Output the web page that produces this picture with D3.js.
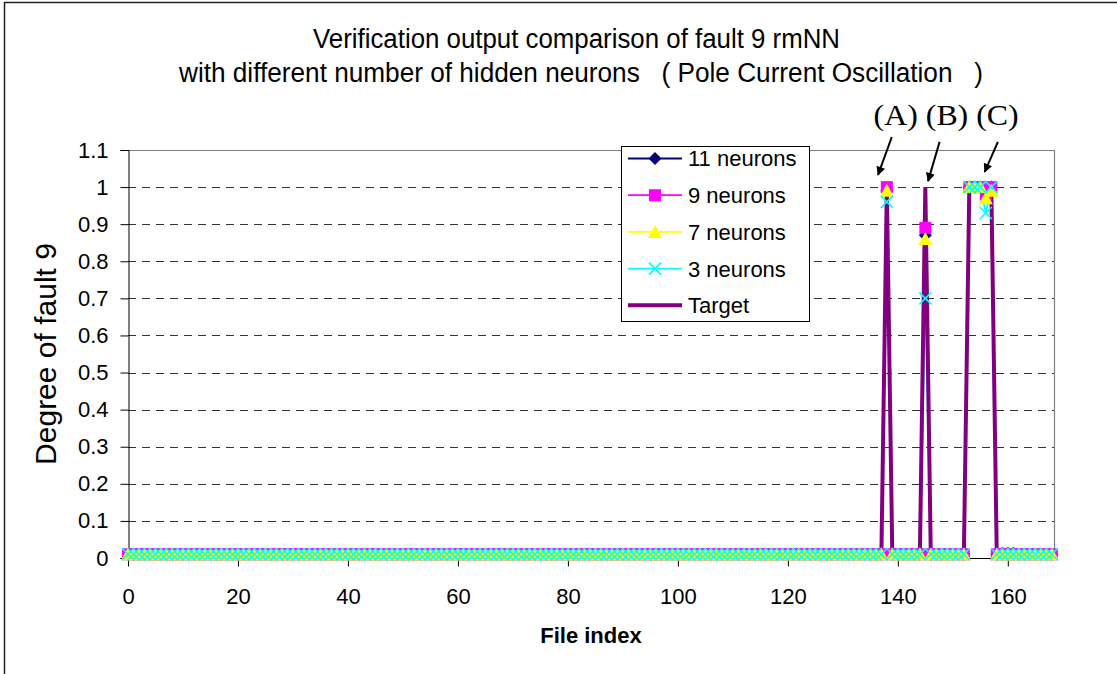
<!DOCTYPE html>
<html><head><meta charset="utf-8">
<script src="https://cdn.jsdelivr.net/npm/d3@7"></script>
<style>
html,body{margin:0;padding:0;background:#fff;}
svg{display:block;}
text{font-family:"Liberation Sans",Arial,sans-serif;fill:#000;}
</style></head>
<body>
<svg id="chart" width="1117" height="674"></svg>
<script>
// ---------------- DATA ----------------
const titleLines = ["Verification output comparison of fault 9 rmNN",
                    "with different number of hidden neurons   ( Pole Current Oscillation   )"];
const xTitle = "File index";
const yTitle = "Degree of fault 9";
const xTicks = [0,20,40,60,80,100,120,140,160];
const yTicks = [0,0.1,0.2,0.3,0.4,0.5,0.6,0.7,0.8,0.9,1,1.1];
const yTickLabels = ["0","0.1","0.2","0.3","0.4","0.5","0.6","0.7","0.8","0.9","1","1.1"];
const seriesNames = ["11 neurons","9 neurons","7 neurons","3 neurons","Target"];
const fileIndex = d3.range(0,169); // files 0..168

// values per file index, rows of 10 (0-9, 10-19, ... 160-168)
const n11 = [
0.01,0.01,0.01,0.01,0.01,0.01,0.01,0.01,0.01,0.01,
0.01,0.01,0.01,0.01,0.01,0.01,0.01,0.01,0.01,0.01,
0.01,0.01,0.01,0.01,0.01,0.01,0.01,0.01,0.01,0.01,
0.01,0.01,0.01,0.01,0.01,0.01,0.01,0.01,0.01,0.01,
0.01,0.01,0.01,0.01,0.01,0.01,0.01,0.01,0.01,0.01,
0.01,0.01,0.01,0.01,0.01,0.01,0.01,0.01,0.01,0.01,
0.01,0.01,0.01,0.01,0.01,0.01,0.01,0.01,0.01,0.01,
0.01,0.01,0.01,0.01,0.01,0.01,0.01,0.01,0.01,0.01,
0.01,0.01,0.01,0.01,0.01,0.01,0.01,0.01,0.01,0.01,
0.01,0.01,0.01,0.01,0.01,0.01,0.01,0.01,0.01,0.01,
0.01,0.01,0.01,0.01,0.01,0.01,0.01,0.01,0.01,0.01,
0.01,0.01,0.01,0.01,0.01,0.01,0.01,0.01,0.01,0.01,
0.01,0.01,0.01,0.01,0.01,0.01,0.01,0.01,0.01,0.01,
0.01,0.01,0.01,0.01,0.01,0.01,0.01,0.01,0.99,0.01,
0.01,0.01,0.01,0.01,0.01,0.87,0.01,0.01,0.01,0.01,
0.01,0.01,0.01,1.00,1.00,1.00,1.00,1.00,0.01,0.013,
0.013,0.013,0.01,0.01,0.01,0.01,0.01,0.01,0.01];
const n9 = [
0.01,0.01,0.01,0.01,0.01,0.01,0.01,0.01,0.01,0.01,
0.01,0.01,0.01,0.01,0.01,0.01,0.01,0.01,0.01,0.01,
0.01,0.01,0.01,0.01,0.01,0.01,0.01,0.01,0.01,0.01,
0.01,0.01,0.01,0.01,0.01,0.01,0.01,0.01,0.01,0.01,
0.01,0.01,0.01,0.01,0.01,0.01,0.01,0.01,0.01,0.01,
0.01,0.01,0.01,0.01,0.01,0.01,0.01,0.01,0.01,0.01,
0.01,0.01,0.01,0.01,0.01,0.01,0.01,0.01,0.01,0.01,
0.01,0.01,0.01,0.01,0.01,0.01,0.01,0.01,0.01,0.01,
0.01,0.01,0.01,0.01,0.01,0.01,0.01,0.01,0.01,0.01,
0.01,0.01,0.01,0.01,0.01,0.01,0.01,0.01,0.01,0.01,
0.01,0.01,0.01,0.01,0.01,0.01,0.01,0.01,0.01,0.01,
0.01,0.01,0.01,0.01,0.01,0.01,0.01,0.01,0.01,0.01,
0.01,0.01,0.01,0.01,0.01,0.01,0.01,0.01,0.01,0.01,
0.01,0.01,0.01,0.01,0.01,0.01,0.01,0.01,1.00,0.01,
0.01,0.01,0.01,0.01,0.01,0.89,0.01,0.01,0.01,0.01,
0.01,0.01,0.01,1.00,1.00,1.00,0.98,1.00,0.01,0.01,
0.01,0.01,0.01,0.01,0.01,0.01,0.01,0.01,0.01];
const n7 = [
0.01,0.01,0.01,0.01,0.01,0.01,0.01,0.01,0.01,0.01,
0.01,0.01,0.01,0.01,0.01,0.01,0.01,0.01,0.01,0.01,
0.01,0.01,0.01,0.01,0.01,0.01,0.01,0.01,0.01,0.01,
0.01,0.01,0.01,0.01,0.01,0.01,0.01,0.01,0.01,0.01,
0.01,0.01,0.01,0.01,0.01,0.01,0.01,0.01,0.01,0.01,
0.01,0.01,0.01,0.01,0.01,0.01,0.01,0.01,0.01,0.01,
0.01,0.01,0.01,0.01,0.01,0.01,0.01,0.01,0.01,0.01,
0.01,0.01,0.01,0.01,0.01,0.01,0.01,0.01,0.01,0.01,
0.01,0.01,0.01,0.01,0.01,0.01,0.01,0.01,0.01,0.01,
0.01,0.01,0.01,0.01,0.01,0.01,0.01,0.01,0.01,0.01,
0.01,0.01,0.01,0.01,0.01,0.01,0.01,0.01,0.01,0.01,
0.01,0.01,0.01,0.01,0.01,0.01,0.01,0.01,0.01,0.01,
0.01,0.01,0.01,0.01,0.01,0.01,0.01,0.01,0.01,0.01,
0.01,0.01,0.01,0.01,0.01,0.01,0.01,0.01,0.99,0.01,
0.01,0.01,0.01,0.01,0.01,0.86,0.01,0.01,0.01,0.01,
0.01,0.01,0.01,1.00,1.00,1.00,0.97,0.99,0.01,0.01,
0.01,0.01,0.01,0.01,0.01,0.01,0.01,0.01,0.01];
const n3 = [
0.01,0.01,0.01,0.01,0.01,0.01,0.01,0.01,0.01,0.01,
0.01,0.01,0.01,0.01,0.01,0.01,0.01,0.01,0.01,0.01,
0.01,0.01,0.01,0.01,0.01,0.01,0.01,0.01,0.01,0.01,
0.01,0.01,0.01,0.01,0.01,0.01,0.01,0.01,0.01,0.01,
0.01,0.01,0.01,0.01,0.01,0.01,0.01,0.01,0.01,0.01,
0.01,0.01,0.01,0.01,0.01,0.01,0.01,0.01,0.01,0.01,
0.01,0.01,0.01,0.01,0.01,0.01,0.01,0.01,0.01,0.01,
0.01,0.01,0.01,0.01,0.01,0.01,0.01,0.01,0.01,0.01,
0.01,0.01,0.01,0.01,0.01,0.01,0.01,0.01,0.01,0.01,
0.01,0.01,0.01,0.01,0.01,0.01,0.01,0.01,0.01,0.01,
0.01,0.01,0.01,0.01,0.01,0.01,0.01,0.01,0.01,0.01,
0.01,0.01,0.01,0.01,0.01,0.01,0.01,0.01,0.01,0.01,
0.01,0.01,0.01,0.01,0.01,0.01,0.01,0.01,0.01,0.01,
0.01,0.01,0.01,0.01,0.01,0.01,0.01,0.01,0.96,0.01,
0.01,0.01,0.01,0.01,0.01,0.70,0.01,0.01,0.01,0.01,
0.01,0.01,0.01,1.00,1.00,1.00,0.93,1.00,0.01,0.01,
0.01,0.01,0.01,0.01,0.01,0.01,0.01,0.01,0.01];
const target = [
0,0,0,0,0,0,0,0,0,0,
0,0,0,0,0,0,0,0,0,0,
0,0,0,0,0,0,0,0,0,0,
0,0,0,0,0,0,0,0,0,0,
0,0,0,0,0,0,0,0,0,0,
0,0,0,0,0,0,0,0,0,0,
0,0,0,0,0,0,0,0,0,0,
0,0,0,0,0,0,0,0,0,0,
0,0,0,0,0,0,0,0,0,0,
0,0,0,0,0,0,0,0,0,0,
0,0,0,0,0,0,0,0,0,0,
0,0,0,0,0,0,0,0,0,0,
0,0,0,0,0,0,0,0,0,0,
0,0,0,0,0,0,0,0,1,0,
0,0,0,0,0,1,0,0,0,0,
0,0,0,1,1,1,1,1,0,0,
0,0,0,0,0,0,0,0,0];
// annotation text and arrows, in data units (file index, degree)
const annText = "(A) (B) (C)";
const annTextPos = [135.6, 1.167];
const annArrows = [
  {from:[138.9,1.135], to:[136.4,1.033]},
  {from:[147.6,1.122], to:[145.5,1.016]},
  {from:[158.2,1.122], to:[155.8,1.041]}
];

// ---------------- STYLE / LAYOUT ----------------
const W = 1117, H = 674;
const plot = {left:128, right:1054, top:150, bottom:558};
const colors = ["#000080","#FF00FF","#FFFF00","#00FFFF","#800080"];
const shapes = ["diamond","square","triangle","x",null];

const svg = d3.select("#chart");
svg.append("rect").attr("width",W).attr("height",H).attr("fill","#fff");
// outer chart border (right/bottom fall outside the photographed area)
svg.append("rect").attr("x",4.5).attr("y",2.5).attr("width",W+20).attr("height",H+20)
   .attr("fill","none").attr("stroke","#222").attr("stroke-width",1.5);

const x = d3.scaleLinear().domain([0,168.4]).range([plot.left, plot.right]);
const y = d3.scaleLinear().domain([0,1.1]).range([plot.bottom, plot.top]);

// defs: arrowhead
const defs = svg.append("defs");
defs.append("marker").attr("id","ah").attr("viewBox","0 0 10 10").attr("refX",9).attr("refY",5)
  .attr("markerWidth",11).attr("markerHeight",9).attr("markerUnits","userSpaceOnUse").attr("orient","auto")
  .append("path").attr("d","M0,0 L10,5 L0,10 Z").attr("fill","#000");

// gridlines
svg.append("g").selectAll("line").data(yTicks.filter(v=>v>0 && v<1.1)).join("line")
  .attr("x1",plot.left).attr("x2",plot.right)
  .attr("y1",d=>Math.round(y(d))+0.5).attr("y2",d=>Math.round(y(d))+0.5)
  .attr("stroke","#333").attr("stroke-width",1).attr("stroke-dasharray","8,6");
// top & right plot border
svg.append("path").attr("d",`M${plot.left},${plot.top+0.5}H${plot.right+0.5}V${plot.bottom}`)
  .attr("fill","none").attr("stroke","#808080").attr("stroke-width",1.2);

// axes
const yAxis = d3.axisLeft(y).tickValues(yTicks).tickSize(8).tickPadding(12)
  .tickFormat((d,i)=>yTickLabels[i]);
const gy = svg.append("g").attr("transform",`translate(${plot.left+0.5},0)`).call(yAxis);
gy.selectAll("text").style("font-size","22px").attr("fill","#000");
gy.selectAll("line,path").attr("stroke","#000");

const xAxis = d3.axisBottom(x).tickValues(xTicks).tickSize(8).tickPadding(0).tickFormat(d3.format("d"));
const gx = svg.append("g").attr("transform",`translate(0,${plot.bottom+0.5})`).call(xAxis);
gx.selectAll("text").style("font-size","22px").attr("fill","#000").attr("dy",null).attr("y",45);
gx.selectAll("line,path").attr("stroke","#000");
gx.select(".domain").attr("d",`M${plot.left},0H${plot.right}`);

// lines
const line = d3.line().x((d,i)=>x(fileIndex[i])).y(d=>y(d));
const allSeries = [n11,n9,n7,n3,target];
const lg = svg.append("g");
[0,1,2,3].forEach(k=>{
  lg.append("path").datum(allSeries[k]).attr("d",line).attr("fill","none")
    .attr("stroke",colors[k]).attr("stroke-width",1.8);
});
lg.append("path").datum(target).attr("d",line).attr("fill","none")
  .attr("stroke",colors[4]).attr("stroke-width",4).attr("stroke-linejoin","miter");

// marker shapes
function markerPath(shape){
  if(shape==="diamond") return "M0,-6.5L6.5,0L0,6.5L-6.5,0Z";
  if(shape==="square") return "M-6,-6H6V6H-6Z";
  if(shape==="triangle") return "M0,-7L7,6H-7Z";
  if(shape==="x") return "M-6,-6L6,6M6,-6L-6,6";
  return "";
}
function drawMarker(g, shape, color){
  const p = g.append("path").attr("d",markerPath(shape));
  if(shape==="x") p.attr("fill","none").attr("stroke",color).attr("stroke-width",1.6);
  else p.attr("fill",color).attr("stroke","none");
}
[0,1,2,3].forEach(k=>{
  const g = svg.append("g");
  g.selectAll("g").data(allSeries[k]).join("g")
    .attr("transform",(d,i)=>`translate(${x(fileIndex[i])},${y(d)})`)
    .each(function(){ drawMarker(d3.select(this), shapes[k], colors[k]); });
});

// legend
const leg = svg.append("g");
leg.append("rect").attr("x",621.5).attr("y",146.5).attr("width",188).attr("height",175)
  .attr("fill","#fff").attr("stroke","#000").attr("stroke-width",1);
seriesNames.forEach((name,k)=>{
  const cy = 158.5 + k*36.7;
  leg.append("line").attr("x1",628).attr("x2",682).attr("y1",cy).attr("y2",cy)
    .attr("stroke",colors[k]).attr("stroke-width",k===4?4:1.8);
  if(shapes[k]){
    const mg = leg.append("g").attr("transform",`translate(655,${cy})`);
    drawMarker(mg, shapes[k], colors[k]);
  }
  leg.append("text").attr("x",688).attr("y",cy).attr("dy","0.36em")
    .style("font-size","22px").text(name);
});

// titles
const t1w = [527, 804];
titleLines.forEach((t,i)=>{
  svg.append("text").attr("x",i===0?313:179).attr("y",i===0?48:82)
    .style("font-family",'"Liberation Sans Narrow","Arial Narrow","Liberation Sans",sans-serif')
    .style("font-size","27px").style("white-space","pre")
    .attr("textLength",t1w[i]).attr("lengthAdjust","spacingAndGlyphs").text(t);
});
svg.append("text").attr("x",(plot.left+plot.right)/2).attr("y",643).attr("text-anchor","middle")
  .style("font-size","22px").style("font-weight","bold").text(xTitle);
svg.append("text").attr("transform",`translate(56,${(plot.top+plot.bottom)/2}) rotate(-90)`)
  .attr("text-anchor","middle").style("font-size","30px").text(yTitle);

// annotations
svg.append("text").attr("x",x(annTextPos[0])).attr("y",y(annTextPos[1]))
  .style("font-family",'"Liberation Serif","Times New Roman",serif').style("font-size","30px")
  .attr("textLength",145).attr("lengthAdjust","spacingAndGlyphs").text(annText);
svg.append("g").selectAll("line").data(annArrows).join("line")
  .attr("x1",d=>x(d.from[0])).attr("y1",d=>y(d.from[1]))
  .attr("x2",d=>x(d.to[0])).attr("y2",d=>y(d.to[1]))
  .attr("stroke","#000").attr("stroke-width",2).attr("marker-end","url(#ah)");
</script>
</body></html>
